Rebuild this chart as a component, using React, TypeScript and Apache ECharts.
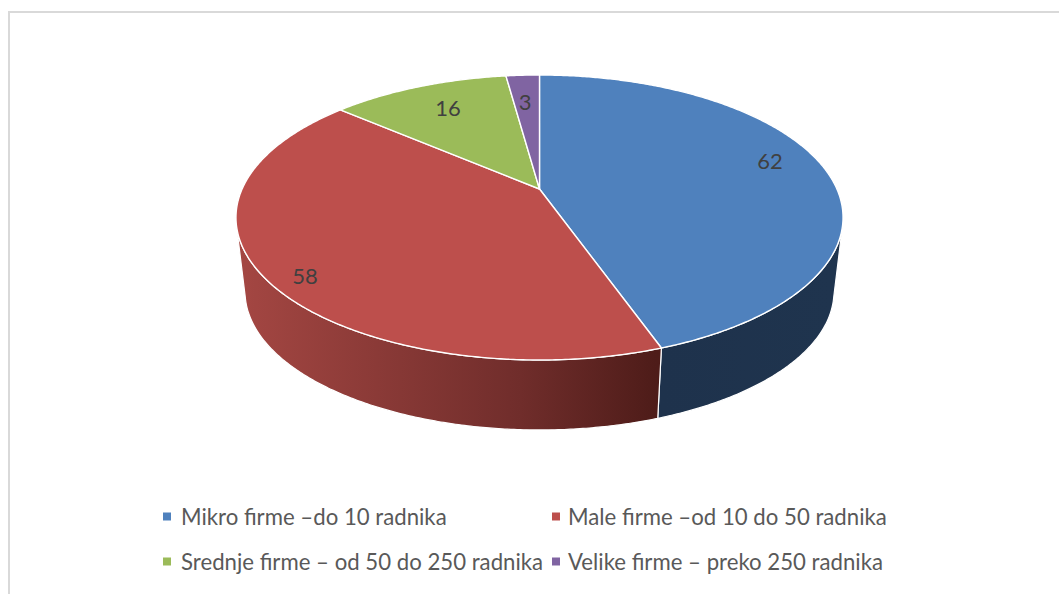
import React, { useEffect, useRef } from "react";
import * as echarts from "echarts";

const categories = [
  "Mikro firme –do 10 radnika",
  "Male firme –od 10 do 50 radnika",
  "Srednje firme – od 50 do 250 radnika",
  "Velike firme – preko 250 radnika",
];
const values = [62, 58, 16, 3];
const colors = ["#4F81BD", "#BD4F4C", "#9BBB59", "#8064A2"];

const labelPositions = [[770, 160.5], [305, 275.5], [448, 107.5], [525, 101.5]];
const legendPositions = [[163, 505.5], [552, 505.5], [163, 550.5], [552, 550.5]];
const legendTextGaps = [5, 3, 5, 3];

const CX = 539.5;
const APEX_Y = 189;
const SX = 297.4;
const SY = 136.8;
const PERSPECTIVE = 0.2;
const BOTTOM_SCALE = 0.97;
const BOTTOM_APEX_Y = 264.1;
const SIDE_FROM = 104;
const SIDE_TO = 256;

const total = values.reduce((a, b) => a + b, 0);
const DEG = Math.PI / 180;

function project(deg: number, r: number, apexY: number, scale: number) {
  const X = Math.sin(deg * DEG) * r;
  const Y = -Math.cos(deg * DEG) * r;
  const w = 1 - PERSPECTIVE * Y;
  return [CX + (scale * SX * X) / w, apexY + (scale * SY * Y) / w];
}

function arc(from: number, to: number, apexY: number, scale: number) {
  const n = Math.max(2, Math.ceil(Math.abs(to - from) / 0.5));
  const pts: number[][] = [];
  for (let i = 0; i <= n; i++) pts.push(project(from + ((to - from) * i) / n, 1, apexY, scale));
  return pts;
}

function sideFill(index: number) {
  if (index === 0) {
    return new echarts.graphic.LinearGradient(660, 0, 834, 0, [
      { offset: 0, color: "#1E324C" },
      { offset: 1, color: "#1F344E" },
    ], true);
  }
  return new echarts.graphic.LinearGradient(245, 0, 656, 0, [
    { offset: 0, color: "#A34642" },
    { offset: 0.67, color: "#702D2B" },
    { offset: 1, color: "#4E1C19" },
  ], true);
}

function makeRenderItem(index: number) {
  return (_params: any, api: any) => {
    const value = api.value(0);
    const before = values.slice(0, index).reduce((a, b) => a + b, 0);
    const start = (before / total) * 360;
    const end = start + (value / total) * 360;
    const children: any[] = [];

    const sFrom = Math.max(start, SIDE_FROM);
    const sTo = Math.min(end, SIDE_TO);
    if (sTo > sFrom) {
      children.push({
        type: "polygon",
        shape: {
          points: [
            ...arc(sFrom, sTo, APEX_Y, 1),
            ...arc(sTo, sFrom, BOTTOM_APEX_Y, BOTTOM_SCALE),
          ],
        },
        style: { fill: sideFill(index), stroke: "#ffffff", lineWidth: 1.2, lineJoin: "round" },
      });
    }

    children.push({
      type: "polygon",
      shape: { points: [[CX, APEX_Y], ...arc(start, end, APEX_Y, 1)] },
      style: { fill: colors[index], stroke: "#ffffff", lineWidth: 1.4, lineJoin: "round" },
    });

    children.push({
      type: "text",
      x: labelPositions[index][0],
      y: labelPositions[index][1],
      style: {
        text: String(value),
        fill: "#404040",
        font: "22px Lato",
        align: "center",
        verticalAlign: "middle",
      },
    });

    return { type: "group", children };
  };
}

export default function App() {
  const ref = useRef<HTMLDivElement>(null);

  useEffect(() => {
    const chart = echarts.init(ref.current!, undefined, { renderer: "svg" });
    chart.setOption({
      animation: false,
      backgroundColor: "#ffffff",
      textStyle: { fontFamily: "Lato" },
      legend: categories.map((name, i) => ({
        show: true,
        data: [name],
        left: legendPositions[i][0],
        top: legendPositions[i][1],
        padding: 0,
        icon: "rect",
        itemWidth: 8,
        itemHeight: 8,
        selectedMode: false,
        textStyle: {
          color: "#595959",
          fontFamily: "Lato",
          fontSize: 22.2,
          padding: [0, 0, 0, legendTextGaps[i]],
        },
      })),
      series: categories.map((name, i) => ({
        type: "custom",
        name,
        coordinateSystem: "none",
        silent: true,
        itemStyle: { color: colors[i] },
        renderItem: makeRenderItem(i),
        data: [[values[i]]],
      })),
      graphic: [
        { type: "rect", shape: { x: 8, y: 11, width: 1051, height: 2 }, style: { fill: "#D9D9D9" } },
        { type: "rect", shape: { x: 8, y: 11, width: 2, height: 583 }, style: { fill: "#D9D9D9" } },
      ],
    });
    return () => chart.dispose();
  }, []);

  return (
    <div
      ref={ref}
      style={{ position: "fixed", left: 0, top: 0, width: 1059, height: 594 }}
    />
  );
}
